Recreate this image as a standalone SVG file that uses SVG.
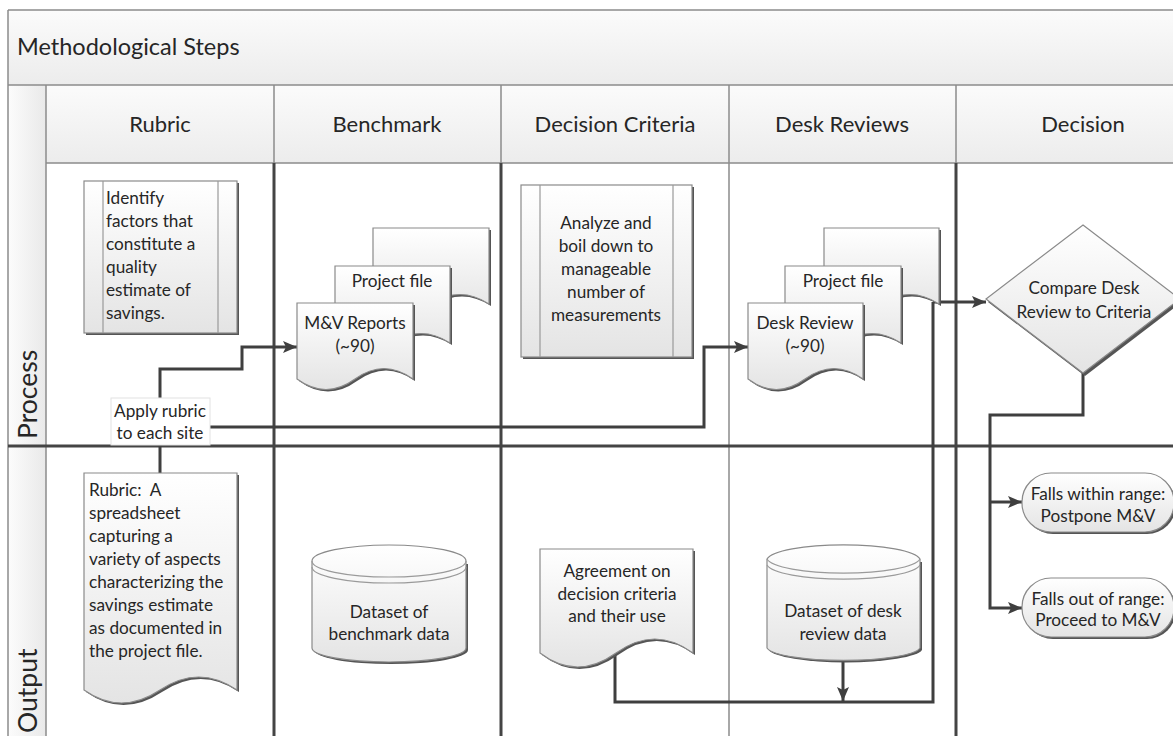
<svg xmlns="http://www.w3.org/2000/svg" width="1173" height="736" viewBox="0 0 1173 736">
<defs>
  <linearGradient id="gShape" x1="0" y1="0" x2="0" y2="1">
    <stop offset="0" stop-color="#ffffff"/>
    <stop offset="1" stop-color="#e4e4e4"/>
  </linearGradient>
  <linearGradient id="gHead" x1="0" y1="0" x2="0" y2="1">
    <stop offset="0" stop-color="#fbfbfb"/>
    <stop offset="1" stop-color="#ececec"/>
  </linearGradient>
  <linearGradient id="gLane" x1="0" y1="0" x2="1" y2="0">
    <stop offset="0" stop-color="#fcfcfc"/>
    <stop offset="1" stop-color="#e9e9e9"/>
  </linearGradient>
  <marker id="arr" markerUnits="userSpaceOnUse" viewBox="0 0 14 12" refX="14" refY="6" markerWidth="14" markerHeight="12" orient="auto">
    <path d="M0,0 L14,6 L0,12 L3,6 z" fill="#3f3f3f"/>
  </marker>
</defs>
<style>
  text { font-family: Lato, "Open Sans", "Liberation Sans", sans-serif; fill: #262626; }
  .h1 { font-size: 23.5px; }
  .ch { font-size: 22px; text-anchor: middle; }
  .lane { font-size: 26.5px; }
  .t { font-size: 17.2px; }
  .c { text-anchor: middle; }
  .shape { fill: url(#gShape); stroke: #8a8a8a; stroke-width: 1.2; }
  .shadow { fill: #555555; stroke: none; }
  .thin { fill: none; stroke: #9a9a9a; stroke-width: 1.2; }
  .grid { fill: none; stroke: #8c8c8c; stroke-width: 1.5; }
  .gridD { fill: none; stroke: #444; stroke-width: 3; }
  .conn { fill: none; stroke: #3f3f3f; stroke-width: 3; }
</style>
<rect x="0" y="0" width="1173" height="736" fill="#ffffff"/>

<!-- frame -->
<g id="frame">
  <rect x="8" y="10" width="1200" height="75" fill="url(#gHead)"/>
  <rect x="46" y="85" width="1162" height="78" fill="url(#gHead)"/>
  <rect x="8" y="85" width="38" height="660" fill="url(#gLane)"/>
  <path class="grid" d="M8,10 H1200 M8,10 V740 M8,85 H1200 M46,85 V740 M46,163 H1200"/>
  <path class="grid" d="M274,85 V163 M501,85 V163 M729,85 V740 M956,85 V163"/>
  <path class="gridD" d="M274,163 V740 M501,163 V740 M956,163 V740 M8,446 H1200"/>
  <text class="h1" x="17" y="55">Methodological Steps</text>
  <text class="ch" x="160" y="132">Rubric</text>
  <text class="ch" x="387" y="132">Benchmark</text>
  <text class="ch" x="615" y="132">Decision Criteria</text>
  <text class="ch" x="842" y="132">Desk Reviews</text>
  <text class="ch" x="1083" y="132">Decision</text>
  <text class="lane" transform="translate(37,439) rotate(-90)">Process</text>
  <text class="lane" transform="translate(37,733) rotate(-90)">Output</text>
</g>

<!-- connectors -->
<g id="connectors">
  <path class="conn" d="M160,473 V369 H242 V347 H297" marker-end="url(#arr)"/>
  <path class="conn" d="M160,427 H704 V347 H748" marker-end="url(#arr)"/>
  <path class="conn" d="M933,302 H986" marker-end="url(#arr)"/>
  <path class="conn" d="M615,655 V702 H933 V302"/>
  <path class="conn" d="M843,660 V701" marker-end="url(#arr)"/>
  <path class="conn" d="M1083,373 V415 H990 V608 H1022" marker-end="url(#arr)"/>
  <path class="conn" d="M990,502 H1022" marker-end="url(#arr)"/>
</g>

<!-- Process lane nodes -->
<g id="identify">
  <rect class="shadow" x="86" y="183" width="153" height="152"/>
  <rect class="shape" x="84" y="181" width="153" height="152"/>
  <path class="thin" d="M103,181 V333 M218,181 V333"/>
  <text class="t" x="106" y="204">Identify</text>
  <text class="t" x="106" y="227">factors that</text>
  <text class="t" x="106" y="250">constitute a</text>
  <text class="t" x="106" y="273">quality</text>
  <text class="t" x="106" y="296">estimate of</text>
  <text class="t" x="106" y="319">savings.</text>
</g>

<g id="bench-docs">
  <path class="shadow" d="M375,230 H491 V306 Q462,287 433,306 T375,306 Z"/>
  <path class="shape" d="M373,228 H489 V304 Q460,285 431,304 T373,304 Z"/>
  <path class="shadow" d="M337,268 H452 V345 Q423,326 394,345 T337,345 Z"/>
  <path class="shape" d="M335,266 H450 V343 Q421,324 392,343 T335,343 Z"/>
  <path class="shadow" d="M299,305 H415 V381 Q386,360 357,381 T299,381 Z"/>
  <path class="shape" d="M297,303 H413 V379 Q384,358 355,379 T297,379 Z"/>
  <text class="t c" x="392" y="287">Project file</text>
  <text class="t c" x="355" y="329">M&amp;V Reports</text>
  <text class="t c" x="355" y="352">(~90)</text>
</g>

<g id="analyze">
  <rect class="shadow" x="523" y="187" width="171" height="172"/>
  <rect class="shape" x="521" y="185" width="171" height="172"/>
  <path class="thin" d="M540,185 V357 M673,185 V357"/>
  <text class="t c" x="606" y="229">Analyze and</text>
  <text class="t c" x="606" y="252">boil down to</text>
  <text class="t c" x="606" y="275">manageable</text>
  <text class="t c" x="606" y="298">number of</text>
  <text class="t c" x="606" y="321">measurements</text>
</g>

<g id="desk-docs">
  <path class="shadow" d="M826,230 H941 V306 Q912,287 883,306 T826,306 Z"/>
  <path class="shape" d="M824,228 H939 V304 Q910,285 881,304 T824,304 Z"/>
  <path class="shadow" d="M787,268 H903 V345 Q874,326 845,345 T787,345 Z"/>
  <path class="shape" d="M785,266 H901 V343 Q872,324 843,343 T785,343 Z"/>
  <path class="shadow" d="M750,305 H865 V381 Q836,360 807,381 T750,381 Z"/>
  <path class="shape" d="M748,303 H863 V379 Q834,358 805,379 T748,379 Z"/>
  <text class="t c" x="843" y="287">Project file</text>
  <text class="t c" x="805" y="329">Desk Review</text>
  <text class="t c" x="805" y="352">(~90)</text>
</g>

<g id="compare">
  <path class="shadow" d="M1085,228 L1182,302 L1085,376 L988,302 Z"/>
  <path class="shape" d="M1083,225 L1180,299 L1083,373 L986,299 Z"/>
  <text class="t c" x="1084" y="294">Compare Desk</text>
  <text class="t c" x="1084" y="318">Review to Criteria</text>
</g>

<g id="apply-label">
  <rect x="111" y="398" width="99" height="47" fill="#ffffff" stroke="#e2e2e2" stroke-width="1"/>
  <text class="t c" x="160" y="417">Apply rubric</text>
  <text class="t c" x="160" y="439">to each site</text>
</g>

<!-- Output lane nodes -->
<g id="rubric-doc">
  <path class="shadow" d="M86,475 H239 V692 Q201,666 162,692 T86,692 Z"/>
  <path class="shape" d="M84,473 H237 V690 Q199,664 160,690 T84,690 Z"/>
  <text class="t" x="89" y="496" xml:space="preserve">Rubric:  A</text>
  <text class="t" x="89" y="519">spreadsheet</text>
  <text class="t" x="89" y="542">capturing a</text>
  <text class="t" x="89" y="565">variety of aspects</text>
  <text class="t" x="89" y="588">characterizing the</text>
  <text class="t" x="89" y="611">savings estimate</text>
  <text class="t" x="89" y="634">as documented in</text>
  <text class="t" x="89" y="657">the project file.</text>
</g>

<g id="bench-data">
  <path class="shadow" d="M314,564 V650 A77,14 0 0 0 468,650 V564 Z"/>
  <path class="shape" d="M312,561 V648 A77,14 0 0 0 466,648 V561 A77,16 0 0 0 312,561 Z"/>
  <path class="thin" d="M312,561 A77,16 0 0 0 466,561 M312,567 A77,16 0 0 0 466,567"/>
  <text class="t c" x="389" y="618">Dataset of</text>
  <text class="t c" x="389" y="640">benchmark data</text>
</g>

<g id="agreement">
  <path class="shadow" d="M542,551 H695 V655 Q657,627 618,655 T542,655 Z"/>
  <path class="shape" d="M540,549 H693 V653 Q655,625 616,653 T540,653 Z"/>
  <text class="t c" x="617" y="577">Agreement on</text>
  <text class="t c" x="617" y="600">decision criteria</text>
  <text class="t c" x="617" y="622">and their use</text>
</g>

<g id="desk-data">
  <path class="shadow" d="M769,562 V650 A77,14 0 0 0 922,650 V562 Z"/>
  <path class="shape" d="M767,559 V648 A77,14 0 0 0 920,648 V559 A77,16 0 0 0 767,559 Z"/>
  <path class="thin" d="M767,559 A77,16 0 0 0 920,559 M767,565 A77,16 0 0 0 920,565"/>
  <text class="t c" x="843" y="617">Dataset of desk</text>
  <text class="t c" x="843" y="640">review data</text>
</g>

<g id="within">
  <rect class="shadow" x="1024" y="475" width="152" height="59" rx="29"/>
  <rect class="shape" x="1022" y="473" width="152" height="59" rx="29"/>
  <text class="t c" x="1098" y="500">Falls within range:</text>
  <text class="t c" x="1098" y="522">Postpone M&amp;V</text>
</g>

<g id="outrange">
  <rect class="shadow" x="1024" y="580" width="152" height="59" rx="29"/>
  <rect class="shape" x="1022" y="578" width="152" height="59" rx="29"/>
  <text class="t c" x="1098" y="605">Falls out of range:</text>
  <text class="t c" x="1098" y="626">Proceed to M&amp;V</text>
</g>
</svg>
